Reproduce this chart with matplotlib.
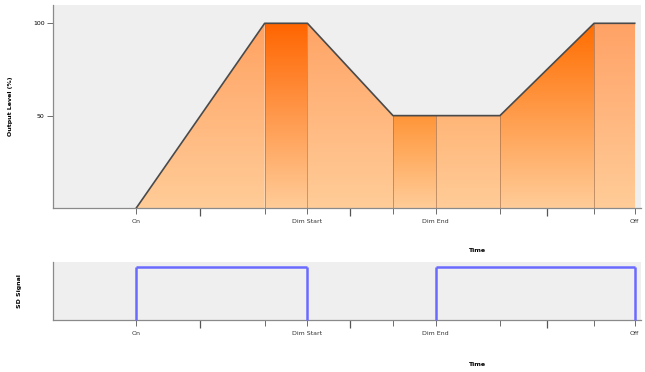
import numpy as np
import matplotlib
matplotlib.use("Agg")
import matplotlib.pyplot as plt
from matplotlib.colors import LinearSegmentedColormap
from matplotlib.patches import Polygon

# breakpoints of the dimming profile
times = [0, 3, 4, 6, 7, 8.5, 10.7, 11.65]
levels = [0, 100, 100, 50, 50, 50, 100, 100]
named_ticks = {0: "On", 4: "Dim Start", 7: "Dim End", 11.65: "Off"}

# shade at top of each segment (bottom shade is common)
seg_top_colors = ["#ffa262", "#ff6500", "#ffa466", "#ff9538", "#ffb577", "#ff6d00", "#ffa266"]
bottom_color = "#ffcc98"

# SD signal (on/off)
sd_times = [0, 0, 4, 4, 7, 7, 11.65, 11.65]
sd_values = [0, 1, 1, 0, 0, 1, 1, 0]

fig = plt.figure(figsize=(6.45, 3.72), dpi=100)
ax1 = fig.add_axes([0.082, 0.441, 0.912, 0.546])
ax2 = fig.add_axes([0.082, 0.140, 0.912, 0.156])

xlim = (-1.95, 11.8)
ticks_all = sorted(set(times))
labels_all = [named_ticks.get(t, "") for t in ticks_all]
mids = [(times[i] + times[i + 1]) / 2 for i in range(len(times) - 1)
        if levels[i] != levels[i + 1]]

for ax in (ax1, ax2):
    ax.set_facecolor("#efefef")
    ax.set_xlim(*xlim)
    for s in ("top", "right"):
        ax.spines[s].set_visible(False)
    for s in ("left", "bottom"):
        ax.spines[s].set_color("#8a8a8a")
        ax.spines[s].set_linewidth(0.9)
    ax.set_xticks(ticks_all)
    ax.set_xticklabels(labels_all, fontsize=4.5, color="#333333")
    ax.set_xticks(mids, minor=True)
    ax.tick_params(axis="x", which="major", length=4, width=0.6, color="#555555", pad=4)
    ax.tick_params(axis="x", which="minor", length=6, width=0.9, color="#555555")
    ax.tick_params(axis="y", length=4, width=0.6, color="#555555", labelsize=4.5, pad=2)

# gradient filled segments
ax1.set_ylim(0, 110)
grad = np.linspace(0, 1, 256).reshape(-1, 1)
for i in range(len(times) - 1):
    x0, x1 = times[i], times[i + 1]
    y0, y1 = levels[i], levels[i + 1]
    ytop = max(y0, y1)
    cmap = LinearSegmentedColormap.from_list("s%d" % i, [bottom_color, seg_top_colors[i]])
    im = ax1.imshow(grad, cmap=cmap, extent=[x0, x1, 0, ytop], origin="lower",
                    aspect="auto", zorder=2, interpolation="bilinear")
    poly = Polygon([[x0, 0], [x0, y0], [x1, y1], [x1, 0]], closed=True,
                   facecolor="none", edgecolor="none")
    ax1.add_patch(poly)
    im.set_clip_path(poly)
    if i > 0:
        ax1.plot([x0, x0], [0, y0], color="#9a6a4a", lw=0.6, alpha=0.7, zorder=3)
ax1.plot(times, levels, color="#4a4a4a", lw=1.2, zorder=4)
ax1.set_xlim(*xlim)
ax1.set_yticks([50, 100])
ax1.set_ylabel("Output Level (%)", fontsize=4.5, fontweight="bold", labelpad=14)

# SD pulses: skip the stretches lying on the baseline
for i in range(len(sd_times) - 1):
    if sd_values[i] == 0 and sd_values[i + 1] == 0:
        continue
    ax2.plot(sd_times[i:i + 2], sd_values[i:i + 2], color="#6a6aff", lw=1.8,
             zorder=3, clip_on=False, solid_capstyle="butt")
ax2.set_ylim(0, 1.1)
ax2.set_yticks([])
ax2.set_ylabel("SD Signal", fontsize=4.5, fontweight="bold", labelpad=22)

fig.text(477 / 645, 1 - 251 / 372, "Time", fontsize=4.5, fontweight="bold",
         ha="center", va="center")
fig.text(477 / 645, 1 - 364 / 372, "Time", fontsize=4.5, fontweight="bold",
         ha="center", va="center")

fig.savefig("out.png", dpi=100)
